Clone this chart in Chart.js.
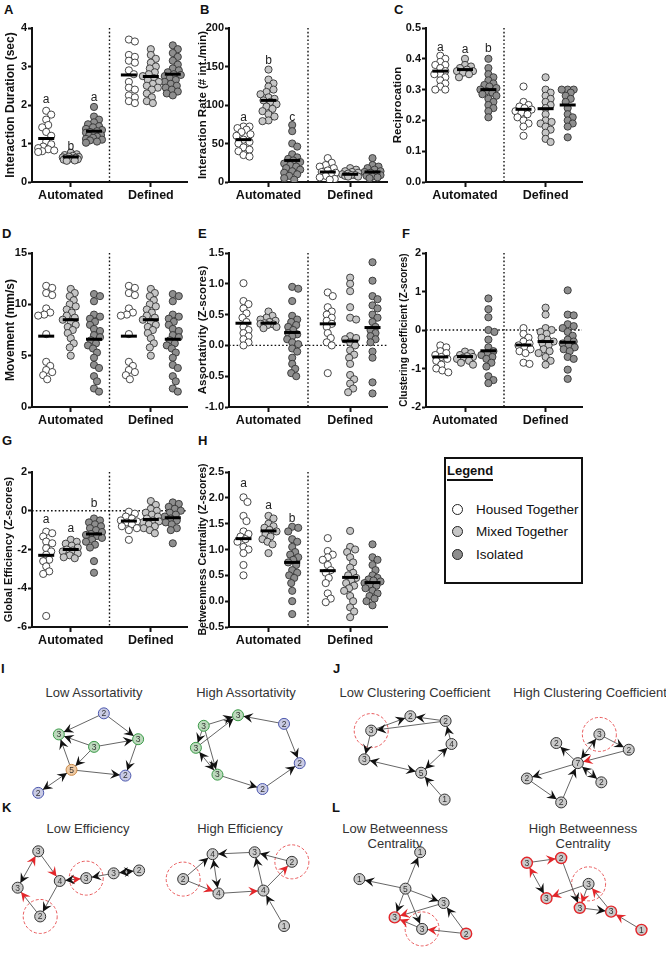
<!DOCTYPE html>
<html>
<head>
<meta charset="utf-8">
<script src="https://cdn.jsdelivr.net/npm/chart.js@4.4.0/dist/chart.umd.min.js"></script>
<style>
body{margin:0;background:#fff;width:666px;height:954px;position:relative;overflow:hidden;font-family:"Liberation Sans",Arial,sans-serif;color:#111}
canvas{position:absolute}
.plbl{position:absolute;font-weight:bold;font-size:13px;line-height:13px}
.ntitle{position:absolute;font-size:13px;line-height:15px;color:#333;text-align:center;transform:translateX(-50%);white-space:nowrap}
#legend{position:absolute;left:444px;top:457px;width:139px;height:127px;box-sizing:border-box;border:2px solid #111}
#legend .lt{position:absolute;left:1px;top:5px;font-weight:bold;font-size:13px;line-height:13px;padding-bottom:2px;border-bottom:2px solid #111}
#legend .li{position:absolute;left:6px;font-size:13.5px;line-height:16px;white-space:nowrap}
#legend .dot{display:inline-block;width:11px;height:11px;box-sizing:border-box;border:1px solid #222;border-radius:50%;margin-right:13px;vertical-align:-1px}
</style>
</head>
<body>
<div class="plbl" style="left:4px;top:3px">A</div>
<div class="plbl" style="left:200px;top:3px">B</div>
<div class="plbl" style="left:394px;top:3px">C</div>
<div class="plbl" style="left:2px;top:227px">D</div>
<div class="plbl" style="left:198px;top:227px">E</div>
<div class="plbl" style="left:402px;top:227px">F</div>
<div class="plbl" style="left:2px;top:434px">G</div>
<div class="plbl" style="left:198px;top:434px">H</div>
<div class="plbl" style="left:1px;top:662px">I</div>
<div class="plbl" style="left:333px;top:662px">J</div>
<div class="plbl" style="left:2px;top:801px">K</div>
<div class="plbl" style="left:332px;top:801px">L</div>

<div id="legend">
  <div class="lt">Legend</div>
  <div class="li" style="top:43px"><span class="dot" style="background:#fff"></span>Housed Together</div>
  <div class="li" style="top:65px"><span class="dot" style="background:#c6c6c6"></span>Mixed Together</div>
  <div class="li" style="top:88px"><span class="dot" style="background:#8e8e8e"></span>Isolated</div>
</div>

<div class="ntitle" style="left:94px;top:685px">Low Assortativity</div>
<div class="ntitle" style="left:246px;top:685px">High Assortativity</div>
<div class="ntitle" style="left:415px;top:685px">Low Clustering Coefficient</div>
<div class="ntitle" style="left:590px;top:685px">High Clustering Coefficient</div>
<div class="ntitle" style="left:88px;top:821px">Low Efficiency</div>
<div class="ntitle" style="left:240px;top:821px">High Efficiency</div>
<div class="ntitle" style="left:395px;top:821px">Low Betweenness<br>Centrality</div>
<div class="ntitle" style="left:583px;top:821px">High Betweenness<br>Centrality</div>

<script>
var FONT = '"Liberation Sans", Arial, sans-serif';
var conditions = ['Automated', 'Defined'];
var groups = ['Housed Together', 'Mixed Together', 'Isolated'];
var groupFill = ['#ffffff', '#c6c6c6', '#8e8e8e'];

// A - Interaction Duration (sec); columns: Auto H/M/I, Defined H/M/I
var durationPts = [
  [1.85, 1.75, 1.62, 1.48, 1.42, 1.3, 1.2, 1.05, 0.98, 0.92, 0.88, 0.85, 0.82, 0.8, 0.78],
  [0.76, 0.72, 0.7, 0.68, 0.66, 0.65, 0.64, 0.63, 0.62, 0.61, 0.6, 0.59, 0.58, 0.56, 0.55],
  [1.95, 1.7, 1.62, 1.55, 1.5, 1.45, 1.42, 1.38, 1.35, 1.32, 1.3, 1.28, 1.25, 1.22, 1.2, 1.18, 1.15, 1.12, 1.1, 1.08, 1.05, 1.02],
  [3.7, 3.65, 3.3, 3.25, 3.15, 3.1, 2.9, 2.8, 2.6, 2.45, 2.4, 2.25, 2.2, 2.1, 2.05],
  [3.45, 3.3, 3.2, 3.1, 3.0, 2.95, 2.85, 2.8, 2.75, 2.7, 2.65, 2.6, 2.55, 2.5, 2.45, 2.4, 2.3, 2.2, 2.1, 2.05],
  [3.55, 3.45, 3.35, 3.25, 3.15, 3.05, 2.95, 2.9, 2.85, 2.8, 2.78, 2.75, 2.7, 2.65, 2.6, 2.55, 2.5, 2.45, 2.4, 2.35, 2.3, 2.25]
];
var durationMeans = [1.13, 0.65, 1.32, 2.78, 2.74, 2.8];
var durationLetters = [['a', 2.15], ['b', 0.93], ['a', 2.2]];

// B - Interaction Rate (# int./min)
var ratePts = [
  [72, 72, 70, 68, 65, 62, 60, 55, 52, 50, 45, 42, 40, 35, 33],
  [146, 133, 128, 124, 120, 117, 114, 110, 108, 106, 104, 101, 98, 95, 92, 88, 85, 80, 79],
  [74, 66, 50, 46, 36, 32, 30, 28, 26, 24, 22, 20, 18, 16, 14, 12, 10, 8, 5, 3],
  [31, 25, 22, 20, 18, 15, 13, 12, 10, 8, 6, 4, 3],
  [18, 16, 14, 13, 12, 11, 10, 9, 9, 8, 7, 7],
  [31, 22, 20, 18, 16, 14, 13, 12, 10, 9, 8, 7, 6, 5]
];
var rateMeans = [55, 106, 28, 13, 10, 13];
var rateLetters = [['a', 84], ['b', 158], ['c', 84]];

// C - Reciprocation
var reciprocationPts = [
  [0.41, 0.4, 0.39, 0.38, 0.38, 0.37, 0.36, 0.35, 0.35, 0.34, 0.33, 0.32, 0.31, 0.3, 0.3],
  [0.4, 0.38, 0.375, 0.37, 0.365, 0.36, 0.36, 0.355, 0.35, 0.34],
  [0.4, 0.37, 0.35, 0.34, 0.33, 0.32, 0.315, 0.31, 0.305, 0.3, 0.295, 0.29, 0.285, 0.28, 0.27, 0.26, 0.25, 0.24, 0.23, 0.21],
  [0.31, 0.26, 0.25, 0.245, 0.24, 0.235, 0.23, 0.225, 0.22, 0.21, 0.2, 0.19, 0.18, 0.15],
  [0.34, 0.3, 0.29, 0.28, 0.27, 0.26, 0.25, 0.24, 0.22, 0.2, 0.195, 0.19, 0.18, 0.17, 0.16, 0.14, 0.13],
  [0.3, 0.3, 0.3, 0.29, 0.28, 0.27, 0.26, 0.24, 0.22, 0.21, 0.2, 0.19, 0.18, 0.145]
];
var reciprocationMeans = [0.36, 0.365, 0.3, 0.236, 0.238, 0.25];
var reciprocationLetters = [['a', 0.435], ['a', 0.43], ['b', 0.432]];

// D - Movement (mm/s)
var movementPts = [
  [11.8, 11.6, 11.1, 10.9, 9.6, 9.2, 9.0, 8.9, 7.1, 4.4, 4.0, 3.6, 3.4, 3.1, 2.7],
  [11.5, 11.1, 10.8, 10.4, 10.0, 9.8, 9.5, 9.2, 8.9, 8.7, 8.5, 8.3, 8.0, 7.8, 7.5, 7.2, 6.7, 6.2, 5.8, 5.0],
  [11.0, 10.8, 10.3, 9.0, 8.8, 8.6, 8.3, 8.0, 7.6, 7.4, 7.0, 6.8, 6.5, 6.2, 6.0, 5.7, 5.3, 4.8, 4.1, 3.8, 3.0, 2.5, 1.8, 1.5],
  [11.8, 11.6, 11.1, 10.9, 9.6, 9.2, 9.0, 8.9, 7.1, 4.4, 4.0, 3.6, 3.4, 3.1, 2.7],
  [11.5, 11.1, 10.8, 10.4, 10.0, 9.8, 9.5, 9.2, 8.9, 8.7, 8.5, 8.3, 8.0, 7.8, 7.5, 7.2, 6.7, 6.2, 5.8, 5.0],
  [11.0, 10.8, 10.3, 9.0, 8.8, 8.6, 8.3, 8.0, 7.6, 7.4, 7.0, 6.8, 6.5, 6.2, 6.0, 5.7, 5.3, 4.8, 4.1, 3.8, 3.0, 2.5, 1.8, 1.5]
];
var movementMeans = [6.9, 8.5, 6.6, 6.9, 8.5, 6.6];

// E - Assortativity (Z-scores)
var assortPts = [
  [1.01, 0.72, 0.67, 0.6, 0.52, 0.45, 0.38, 0.3, 0.25, 0.2, 0.15, 0.1, 0.05, 0.0],
  [0.55, 0.48, 0.45, 0.42, 0.4, 0.38, 0.36, 0.35, 0.34, 0.33, 0.3, 0.28],
  [0.95, 0.92, 0.72, 0.48, 0.42, 0.38, 0.33, 0.3, 0.25, 0.2, 0.18, 0.15, 0.1, 0.05, 0.02, -0.05, -0.1, -0.2, -0.3, -0.38, -0.45, -0.5],
  [0.86, 0.8, 0.62, 0.55, 0.5, 0.45, 0.4, 0.35, 0.3, 0.2, 0.12, 0.05, 0.0, -0.45],
  [1.1, 1.0, 0.88, 0.62, 0.45, 0.42, 0.15, 0.12, 0.1, 0.05, 0.0, -0.08, -0.15, -0.2, -0.3, -0.48, -0.55, -0.62, -0.7, -0.76],
  [1.35, 1.05, 0.8, 0.75, 0.65, 0.6, 0.5, 0.45, 0.38, 0.3, 0.25, 0.2, 0.15, 0.1, 0.05, -0.1, -0.2, -0.6, -0.78]
];
var assortMeans = [0.36, 0.36, 0.21, 0.35, 0.07, 0.29];

// F - Clustering coefficient (Z-scores)
var clusterPts = [
  [-0.4, -0.45, -0.55, -0.6, -0.65, -0.7, -0.75, -0.8, -0.9, -1.0, -1.05, -1.1],
  [-0.56, -0.6, -0.65, -0.68, -0.7, -0.72, -0.75, -0.8, -0.85, -0.9],
  [0.82, 0.54, 0.33, 0.0, -0.05, -0.25, -0.45, -0.55, -0.6, -0.65, -0.7, -0.75, -0.85, -0.95, -1.2, -1.3, -1.38],
  [0.05, -0.1, -0.2, -0.3, -0.35, -0.4, -0.45, -0.5, -0.55, -0.6, -0.85, -0.88],
  [0.58, 0.4, 0.05, 0.0, -0.05, -0.1, -0.2, -0.25, -0.3, -0.35, -0.4, -0.5, -0.55, -0.6, -0.7, -0.8, -0.9],
  [1.03, 0.4, 0.38, 0.15, 0.1, 0.05, -0.05, -0.15, -0.25, -0.3, -0.35, -0.4, -0.45, -0.5, -0.55, -0.7, -0.75, -1.03, -1.27]
];
var clusterMeans = [-0.7, -0.69, -0.54, -0.39, -0.3, -0.32];

// G - Global Efficiency (Z-scores)
var efficiencyPts = [
  [-1.08, -1.16, -1.33, -1.59, -1.68, -1.93, -2.1, -2.27, -2.53, -2.6, -2.87, -3.13, -3.26, -5.43],
  [-1.5, -1.6, -1.7, -1.8, -1.9, -2.0, -2.05, -2.1, -2.2, -2.3, -2.4, -2.45],
  [-0.4, -0.5, -0.6, -0.7, -0.8, -0.9, -1.0, -1.1, -1.2, -1.25, -1.3, -1.4, -1.5, -1.6, -1.75, -1.9, -2.6, -3.2],
  [-0.05, -0.15, -0.3, -0.4, -0.5, -0.55, -0.6, -0.7, -0.8, -0.9, -1.0, -1.5],
  [0.5, 0.3, 0.1, 0.0, -0.1, -0.2, -0.3, -0.4, -0.5, -0.55, -0.6, -0.7, -0.8, -0.9, -1.0, -1.16],
  [0.43, 0.35, 0.2, 0.1, 0.0, -0.1, -0.2, -0.3, -0.4, -0.5, -0.6, -0.7, -0.9, -1.0, -1.68]
];
var efficiencyMeans = [-2.3, -2.0, -1.2, -0.53, -0.45, -0.36];
var efficiencyLetters = [['a', -0.48], ['a', -0.9], ['b', 0.38]];

// H - Betweenness Centrality (Z-scores)
var betweenPts = [
  [2.01, 1.92, 1.65, 1.55, 1.35, 1.3, 1.25, 1.2, 1.15, 1.05, 1.0, 0.93, 0.7, 0.5],
  [1.65, 1.6, 1.5, 1.45, 1.42, 1.38, 1.35, 1.3, 1.25, 1.2, 1.15, 1.1, 0.93],
  [1.44, 1.42, 1.35, 1.2, 1.15, 1.05, 0.95, 0.9, 0.85, 0.8, 0.75, 0.7, 0.6, 0.55, 0.5, 0.45, 0.35, 0.2, 0.0, -0.25],
  [1.22, 0.97, 0.9, 0.85, 0.8, 0.7, 0.6, 0.55, 0.45, 0.35, 0.15, 0.05, -0.02],
  [1.36, 1.05, 1.0, 0.95, 0.85, 0.75, 0.65, 0.55, 0.5, 0.45, 0.4, 0.35, 0.3, 0.25, 0.2, 0.1, 0.0, -0.12, -0.2, -0.31],
  [1.1, 0.85, 0.8, 0.7, 0.6, 0.5, 0.45, 0.42, 0.4, 0.38, 0.35, 0.32, 0.3, 0.25, 0.2, 0.15, 0.1, 0.05, 0.0, -0.08]
];
var betweenMeans = [1.21, 1.36, 0.75, 0.59, 0.46, 0.36];
var betweenLetters = [['a', 2.27], ['a', 1.85], ['b', 1.59]];

// column centres on a 0..6 axis, separator at 3
var colX = [0.55, 1.5, 2.4, 3.75, 4.6, 5.45];
var tickX = [1.5, 4.6];

var panels = [
  { title: 'Interaction Duration (sec)', pts: durationPts, means: durationMeans, letters: durationLetters, min: 0, max: 4, step: 1, dec: 0, cx: 3, plot: [32, 28, 187, 182], tfs: 12 },
  { title: 'Interaction Rate (# int./min)', pts: ratePts, means: rateMeans, letters: rateLetters, min: 0, max: 200, step: 50, dec: 0, cx: 196, plot: [229, 28, 387, 182], tfs: 11.5 },
  { title: 'Reciprocation', pts: reciprocationPts, means: reciprocationMeans, letters: reciprocationLetters, min: 0, max: 0.5, step: 0.1, dec: 1, cx: 391, plot: [426, 28, 582, 182], tfs: 11.5 },
  { title: 'Movement (mm/s)', pts: movementPts, means: movementMeans, letters: [], min: 0, max: 15, step: 5, dec: 0, cx: 3, plot: [32, 253, 187, 407], tfs: 12 },
  { title: 'Assortativity (Z-scores)', pts: assortPts, means: assortMeans, letters: [], zero: true, min: -1, max: 1.5, step: 0.5, dec: 1, cx: 196, plot: [229, 253, 387, 407], tfs: 11.5 },
  { title: 'Clustering coefficient (Z-scores)', pts: clusterPts, means: clusterMeans, letters: [], zero: true, min: -2, max: 2, step: 1, dec: 0, cx: 398, plot: [426, 253, 582, 407], tfs: 10 },
  { title: 'Global Efficiency (Z-scores)', pts: efficiencyPts, means: efficiencyMeans, letters: efficiencyLetters, zero: true, min: -6, max: 2, step: 2, dec: 0, cx: 2, plot: [32, 472, 187, 627], tfs: 11 },
  { title: 'Betweenness Centrality (Z-scores)', pts: betweenPts, means: betweenMeans, letters: betweenLetters, min: -0.5, max: 2.5, step: 0.5, dec: 1, cx: 197, plot: [229, 472, 387, 627], tfs: 10.5 }
];

// compact beeswarm: dots may overlap a little, column width is capped
function swarm(vals, col, pxPerUnit, unitPerPx) {
  var placed = [], out = [], d = 5.6, maxOff = 8;
  vals.slice().sort(function (a, b) { return b - a; }).forEach(function (v) {
    var py = v * pxPerUnit, best = 0, bestGap = -1;
    for (var i = 0; i <= maxOff * 2; i++) {
      var off = (i % 2 ? 1 : -1) * Math.ceil(i / 2);
      var gap = placed.reduce(function (m, p) {
        var dx = p[0] - off, dy = p[1] - py;
        return Math.min(m, Math.sqrt(dx * dx + dy * dy));
      }, 99);
      if (gap >= d) { best = off; bestGap = gap; break; }
      if (gap > bestGap) { best = off; bestGap = gap; }
    }
    placed.push([best, py]);
    out.push({ x: col + best * unitPerPx, y: v });
  });
  return out;
}

var extrasPlugin = {
  id: 'extras',
  beforeDatasetsDraw: function (chart, args, o) {
    var ctx = chart.ctx, a = chart.chartArea;
    ctx.save();
    ctx.setLineDash([1.6, 2.2]);
    ctx.lineWidth = 1.4;
    ctx.strokeStyle = '#111';
    var sx = chart.scales.x.getPixelForValue(3);
    ctx.beginPath(); ctx.moveTo(sx, a.top); ctx.lineTo(sx, a.bottom); ctx.stroke();
    if (o.zero) {
      var zy = chart.scales.y.getPixelForValue(0);
      ctx.beginPath(); ctx.moveTo(a.left, zy); ctx.lineTo(a.right, zy); ctx.stroke();
    }
    ctx.restore();
  },
  afterDatasetsDraw: function (chart, args, o) {
    var ctx = chart.ctx;
    ctx.save();
    ctx.font = '12px ' + FONT;
    ctx.fillStyle = '#222';
    ctx.textAlign = 'center';
    ctx.textBaseline = 'middle';
    (o.letters || []).forEach(function (l, i) {
      ctx.fillText(l[0], chart.scales.x.getPixelForValue(colX[i]), chart.scales.y.getPixelForValue(l[1]));
    });
    ctx.restore();
  }
};

panels.forEach(function (p) {
  var l = p.plot[0], t = p.plot[1], r = p.plot[2], b = p.plot[3];
  var cx = p.cx, cy = t - 26, cw = r + 14 - cx, ch = b + 30 - cy;
  var cv = document.createElement('canvas');
  cv.width = cw; cv.height = ch;
  cv.style.left = cx + 'px'; cv.style.top = cy + 'px';
  document.body.appendChild(cv);
  var pxPerUnit = (b - t) / (p.max - p.min), unitPerPx = 6 / (r - l);

  var datasets = p.pts.map(function (vals, i) {
    return {
      label: conditions[i > 2 ? 1 : 0] + ' - ' + groups[i % 3],
      data: swarm(vals, colX[i], pxPerUnit, unitPerPx),
      pointRadius: 3.6, pointBorderWidth: 0.9,
      pointBackgroundColor: groupFill[i % 3], pointBorderColor: '#333',
      order: 2
    };
  });
  datasets.push({
    label: 'Mean',
    data: p.means.map(function (m, i) { return { x: colX[i], y: m }; }),
    pointStyle: 'line', pointRadius: 8, pointBorderWidth: 3, pointBorderColor: '#000',
    order: 1
  });

  new Chart(cv, {
    type: 'scatter',
    data: { datasets: datasets },
    plugins: [extrasPlugin],
    options: {
      responsive: false, animation: false, events: [],
      layout: { padding: { left: 0, top: t - cy, right: cx + cw - r, bottom: 0 } },
      plugins: {
        legend: { display: false }, tooltip: { enabled: false },
        extras: { zero: !!p.zero, letters: p.letters }
      },
      scales: {
        x: {
          type: 'linear', min: 0, max: 6,
          afterBuildTicks: function (s) { s.ticks = tickX.map(function (v) { return { value: v }; }); },
          afterFit: function (s) { s.height = cy + ch - b; },
          border: { display: true, color: '#111', width: 2 },
          grid: { display: true, drawOnChartArea: false, drawTicks: true, tickLength: 5, tickWidth: 2, tickColor: '#111' },
          ticks: {
            padding: 1, autoSkip: false, maxRotation: 0, color: '#111',
            font: { family: FONT, size: 12.5, weight: 'bold' },
            callback: function (v, i) { return conditions[i]; }
          }
        },
        y: {
          type: 'linear', min: p.min, max: p.max,
          afterFit: function (s) { s.width = l - cx; },
          border: { display: true, color: '#111', width: 2 },
          grid: { display: true, drawOnChartArea: false, drawTicks: true, tickLength: 4, tickWidth: 2, tickColor: '#111' },
          ticks: {
            stepSize: p.step, padding: 1, color: '#111',
            font: { family: FONT, size: 11, weight: 'bold' },
            callback: function (v) { return Number(v).toFixed(p.dec); }
          },
          title: { display: true, text: p.title, color: '#111', padding: 0, font: { family: FONT, size: p.tfs, weight: 'bold' } }
        }
      }
    }
  });
});

// ---------- network examples (I-L); node = [x, y, degree, style, highlighted] ----------
var assortLowNodes = [[99, 710, '2', 'bl'], [53, 732, '3', 'gr'], [89, 745, '3', 'gr'], [134, 737, '3', 'gr'], [66, 769, '5', 'or'], [121, 775, '2', 'bl'], [32, 793, '2', 'bl']];
var assortLowEdges = [[0, 1, 'k'], [0, 3, 'k'], [2, 1, 'k'], [2, 3, 'k'], [2, 4, 'k'], [4, 1, 'k'], [4, 5, 'k'], [3, 5, 'k'], [4, 6, 'k', 'k']];
var assortHighNodes = [[236, 712, '3', 'gr'], [283, 721, '2', 'bl'], [201, 723, '3', 'gr'], [193, 746, '3', 'gr'], [299, 762, '2', 'bl'], [215, 774, '3', 'gr'], [261, 789, '2', 'bl']];
var assortHighEdges = [[1, 0, 'k'], [2, 0, 'k'], [3, 0, 'k'], [2, 3, 'k'], [5, 3, 'k', 'k'], [2, 5, 'k'], [1, 4, 'k'], [6, 4, 'k'], [5, 6, 'k']];
var clustLowNodes = [[372, 728, '3', 'g', 1], [412, 713, '2', 'g'], [448, 718, '2', 'g'], [454, 742, '4', 'g'], [365, 758, '3', 'g'], [423, 772, '5', 'g'], [447, 800, '1', 'g']];
var clustLowEdges = [[0, 1, 'k'], [2, 1, 'k'], [2, 0, 'k'], [3, 2, 'k'], [0, 4, 'k'], [5, 4, 'k', 'k'], [3, 5, 'k', 'k'], [6, 5, 'k']];
var clustHighNodes = [[605, 732, '3', 'g', 1], [635, 748, '2', 'g'], [561, 741, '2', 'g'], [583, 762, '7', 'g'], [607, 782, '2', 'g'], [531, 778, '2', 'g'], [566, 803, '2', 'g']];
var clustHighEdges = [[3, 0, 'k', 'k'], [0, 1, 'k'], [1, 3, 'r'], [3, 2, 'k'], [3, 4, 'k', 'k'], [3, 5, 'k'], [5, 6, 'k'], [6, 3, 'k']];
var effLowNodes = [[32, 854, '3', 'g'], [11, 892, '3', 'g'], [54, 885, '4', 'g'], [34, 922, '2', 'g', 1], [81, 882, '3', 'g', 1], [109, 877, '3', 'g'], [135, 874, '2', 'g']];
var effLowEdges = [[0, 2, 'r'], [0, 1, 'k', 'r'], [3, 1, 'r'], [2, 3, 'k'], [2, 4, 'r', 'k'], [5, 4, 'k'], [5, 6, 'k', 'k']];
var effHighNodes = [[210, 857, '4', 'g'], [253, 855, '3', 'g'], [291, 865, '2', 'g', 1], [180, 883, '2', 'g', 1], [216, 898, '4', 'g'], [262, 895, '4', 'g'], [283, 932, '1', 'g']];
var effHighEdges = [[1, 0, 'k'], [2, 1, 'k'], [5, 2, 'r'], [3, 0, 'k'], [3, 4, 'r'], [0, 4, 'k', 'k'], [4, 5, 'r'], [5, 1, 'k'], [6, 5, 'k']];
var betwLowNodes = [[422, 855, '1', 'g'], [360, 883, '1', 'g'], [407, 893, '5', 'g'], [446, 908, '3', 'g'], [396, 923, '3', 'rd'], [424, 935, '3', 'g', 1], [469, 940, '2', 'rd']];
var betwLowEdges = [[2, 0, 'k'], [2, 1, 'k'], [2, 3, 'k'], [2, 4, 'k'], [2, 5, 'k'], [3, 4, 'r'], [5, 4, 'r'], [6, 3, 'k'], [6, 5, 'r']];
var betwHighNodes = [[531, 866, '3', 'rd'], [566, 861, '2', 'rd'], [551, 903, '3', 'rd'], [594, 888, '3', 'g', 1], [585, 913, '3', 'rd'], [617, 917, '3', 'rd'], [648, 936, '1', 'rd']];
var betwHighEdges = [[0, 1, 'r'], [0, 2, 'k', 'r'], [3, 2, 'r'], [1, 4, 'k'], [3, 4, 'r'], [4, 5, 'k'], [5, 3, 'r'], [6, 5, 'r']];

var graphs = [
  [assortLowNodes, assortLowEdges], [assortHighNodes, assortHighEdges],
  [clustLowNodes, clustLowEdges], [clustHighNodes, clustHighEdges],
  [effLowNodes, effLowEdges], [effHighNodes, effHighEdges],
  [betwLowNodes, betwLowEdges], [betwHighNodes, betwHighEdges]
];
var nodeFill = { g: '#cacaca', gr: '#bcd9bc', bl: '#c9cbe4', or: '#efc9a2', rd: '#cacaca' };
var nodeLine = { g: '#333', gr: '#3a9a48', bl: '#4b57ad', or: '#c98a48', rd: '#e3262a' };
var headColor = { k: '#111', r: '#e3262a' };
var NODE_R = 5.5;

function arrowHead(ctx, x1, y1, x2, y2, color) {
  var ang = Math.atan2(y2 - y1, x2 - x1);
  ctx.save();
  ctx.translate(x2 - Math.cos(ang) * NODE_R, y2 - Math.sin(ang) * NODE_R);
  ctx.rotate(ang);
  ctx.beginPath();
  ctx.moveTo(0, 0); ctx.lineTo(-9.5, -4.8); ctx.lineTo(-6, 0); ctx.lineTo(-9.5, 4.8);
  ctx.closePath();
  ctx.fillStyle = color; ctx.fill();
  ctx.restore();
}

var netPlugin = {
  id: 'net',
  beforeDatasetsDraw: function (chart) {
    var ctx = chart.ctx, xs = chart.scales.x, ys = chart.scales.y;
    function px(n) { return [xs.getPixelForValue(n[0]), ys.getPixelForValue(n[1])]; }
    ctx.save();
    graphs.forEach(function (g) {
      var nodes = g[0];
      nodes.forEach(function (n) {
        if (!n[4]) return;
        var p = px(n);
        ctx.setLineDash([3, 2]); ctx.lineWidth = 1; ctx.strokeStyle = '#e8585a';
        ctx.beginPath(); ctx.arc(p[0], p[1], 17, 0, Math.PI * 2); ctx.stroke();
      });
      ctx.setLineDash([]);
      g[1].forEach(function (e) {
        var a = px(nodes[e[0]]), b = px(nodes[e[1]]);
        ctx.lineWidth = 0.9; ctx.strokeStyle = '#555';
        ctx.beginPath(); ctx.moveTo(a[0], a[1]); ctx.lineTo(b[0], b[1]); ctx.stroke();
        if (e[2]) arrowHead(ctx, a[0], a[1], b[0], b[1], headColor[e[2]]);
        if (e[3]) arrowHead(ctx, b[0], b[1], a[0], a[1], headColor[e[3]]);
      });
    });
    ctx.restore();
  },
  afterDatasetsDraw: function (chart) {
    var ctx = chart.ctx, xs = chart.scales.x, ys = chart.scales.y;
    ctx.save();
    ctx.font = '8.5px ' + FONT; ctx.fillStyle = '#333';
    ctx.textAlign = 'center'; ctx.textBaseline = 'middle';
    graphs.forEach(function (g) {
      g[0].forEach(function (n) {
        ctx.fillText(n[2], xs.getPixelForValue(n[0]), ys.getPixelForValue(n[1]) + 0.5);
      });
    });
    ctx.restore();
  }
};

(function () {
  var cv = document.createElement('canvas');
  cv.width = 666; cv.height = 329;
  cv.style.left = '0px'; cv.style.top = '625px';
  document.body.appendChild(cv);
  new Chart(cv, {
    type: 'scatter',
    data: {
      datasets: graphs.map(function (g, i) {
        return {
          label: 'network ' + i,
          data: g[0].map(function (n) { return { x: n[0], y: n[1] }; }),
          pointRadius: NODE_R, pointBorderWidth: g[0].map(function (n) { return n[3] === 'rd' ? 1.4 : 1; }),
          pointBackgroundColor: g[0].map(function (n) { return nodeFill[n[3]]; }),
          pointBorderColor: g[0].map(function (n) { return nodeLine[n[3]]; }),
          clip: false
        };
      })
    },
    plugins: [netPlugin],
    options: {
      responsive: false, animation: false, events: [],
      layout: { padding: 0 },
      plugins: { legend: { display: false }, tooltip: { enabled: false } },
      scales: {
        x: { type: 'linear', display: false, min: 0, max: 666 },
        y: { type: 'linear', display: false, min: 625, max: 954, reverse: true }
      }
    }
  });
})();
</script>
</body>
</html>
